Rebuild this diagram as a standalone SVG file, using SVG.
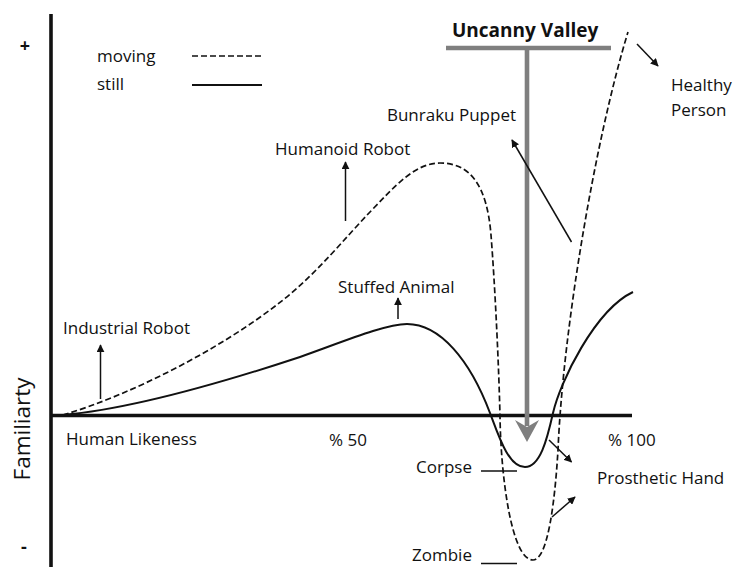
<svg xmlns="http://www.w3.org/2000/svg" width="734" height="567" viewBox="0 0 734 567">
<defs>
<marker id="ah" viewBox="0 0 10 10" refX="9" refY="5" markerWidth="8" markerHeight="8" markerUnits="userSpaceOnUse" orient="auto">
<path d="M0,0 L10,5 L0,10 z" fill="#111"/>
</marker>
<style>
text{font-family:"Open Sans","Liberation Sans",sans-serif;fill:#111;font-size:17px}
.axis{stroke:#111;stroke-width:3.6;fill:none}
.still{stroke:#111;stroke-width:2;fill:none}
.moving{stroke:#111;stroke-width:1.7;fill:none;stroke-dasharray:6,3}
.ptr{stroke:#111;stroke-width:1.5;fill:none;marker-end:url(#ah)}
.tick{stroke:#111;stroke-width:1.4}
.gray{stroke:#7f7f7f;stroke-width:4.6;fill:none}
</style>
</defs>
<rect width="734" height="567" fill="#fff"/>

<g id="axes">
<line class="axis" x1="51" y1="14" x2="51" y2="567"/>
<line class="axis" x1="51" y1="415.5" x2="632" y2="415.5"/>
<text x="25" y="52" text-anchor="middle" style="font-weight:bold;font-size:18px">+</text>
<text x="24" y="553" text-anchor="middle" style="font-weight:bold;font-size:18px">-</text>
<text transform="translate(30,429) rotate(-90)" text-anchor="middle" style="font-size:22.5px">Familiarty</text>
<text x="66" y="445">Human Likeness</text>
<text x="329" y="446">% 50</text>
<text x="608" y="446">% 100</text>
</g>

<g id="legend">
<text x="97" y="62">moving</text>
<text x="97" y="90">still</text>
<line class="moving" x1="192" y1="56" x2="262" y2="56"/>
<line class="still" x1="192" y1="85" x2="262" y2="85"/>
</g>

<g id="curves">
<path id="moving-curve" class="moving" d="M63,415 C130,395 220,350 283,300 C318,272 345,238 370,212 C395,186 415,163 440,163 C470,163 487,185 491,235 C495,285 499,370 500,417 C501,480 512,560 533,560 C548,560 555,500 558,450 C563,330 595,140 628,32"/>
<path id="still-curve" class="still" d="M63,415 C120,410 200,390 300,357 C340,343 385,324 407,324 C440,324 470,360 490,413 C498,434 508,467 525,467 C540,467 547,440 553,413 C560,382 595,310 633,292"/>
</g>

<g id="uncanny-valley">
<text x="452" y="37" style="font-weight:bold;font-size:19px">Uncanny Valley</text>
<line class="gray" x1="446" y1="48" x2="611" y2="48"/>
<line class="gray" x1="527" y1="48" x2="527" y2="426"/>
<polygon points="515,420 527,427 539,420 527,442" fill="#7f7f7f"/>
</g>

<g id="connectors">
<line class="ptr" x1="100.5" y1="399" x2="100.5" y2="345"/>
<line class="ptr" x1="345.5" y1="221" x2="345.5" y2="162"/>
<line class="ptr" x1="398" y1="319" x2="398" y2="298"/>
<line class="ptr" x1="571.5" y1="242" x2="512" y2="140"/>
<line class="ptr" x1="637" y1="44" x2="658" y2="66"/>
<line class="ptr" x1="549" y1="440" x2="571.5" y2="462"/>
<line class="ptr" x1="552" y1="517" x2="575" y2="497"/>
<line class="tick" x1="481" y1="471" x2="517" y2="471"/>
<line class="tick" x1="481" y1="563.5" x2="517" y2="563.5"/>
</g>

<g id="label-industrial-robot"><text x="63" y="334">Industrial Robot</text></g>
<g id="label-humanoid-robot"><text x="275" y="155">Humanoid Robot</text></g>
<g id="label-stuffed-animal"><text x="338" y="293">Stuffed Animal</text></g>
<g id="label-bunraku-puppet"><text x="516" y="121" text-anchor="end">Bunraku Puppet</text></g>
<g id="label-healthy-person"><text x="671" y="91">Healthy</text><text x="671" y="116">Person</text></g>
<g id="label-corpse"><text x="416" y="473">Corpse</text></g>
<g id="label-zombie"><text x="412" y="561">Zombie</text></g>
<g id="label-prosthetic-hand"><text x="597" y="484">Prosthetic Hand</text></g>
</svg>
